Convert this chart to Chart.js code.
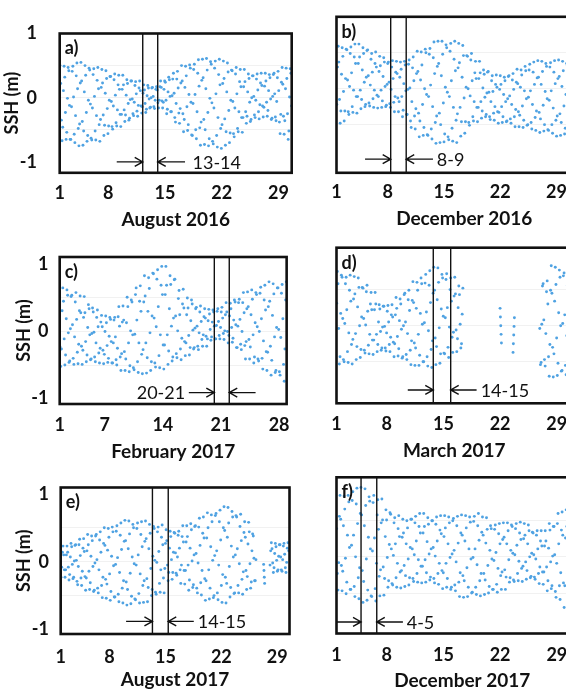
<!DOCTYPE html>
<html>
<head>
<meta charset="utf-8">
<title>SSH panels</title>
<script src="https://cdn.jsdelivr.net/npm/chart.js@4.4.1/dist/chart.umd.min.js"></script>
<style>
  html, body { margin: 0; padding: 0; background: #fff; overflow: hidden; width: 566px; height: 696px; }
  canvas { position: absolute; }
</style>
</head>
<body>
<script>
/* ---------- data (sea surface height, m, 2-hourly) ---------- */
const STEP = 1 / 12;          // 2 h in days
const STEP_1H = 1 / 24;       // 1 h in days

const dayTicks    = [1, 8, 15, 22, 29];
const dayTicksFeb = [1, 7, 14, 21, 28];
const sshTicks    = [-1, -0.5, 0, 0.5, 1];

const t0Aug2016 = 2.04;
const sshAug2016 = [
  0.50,0.22,-0.35,-0.67,-0.46,0.11,0.49,0.32,-0.23,-0.65,-0.54,-0.01,
  0.47,0.42,-0.12,-0.65,-0.65,-0.14,0.41,0.49,0.01,-0.57,-0.70,-0.28,
  0.34,0.54,0.14,-0.48,-0.75,-0.41,0.23,0.55,0.26,-0.37,-0.74,-0.52,
  0.09,0.50,0.35,-0.23,-0.68,-0.59,-0.04,0.46,0.43,-0.10,-0.63,-0.66,
  -0.16,0.36,0.45,0.02,-0.52,-0.66,-0.28,0.27,0.47,0.14,-0.42,-0.68,
  -0.34,0.16,0.44,0.23,-0.27,-0.59,-0.43,0.07,0.42,0.30,-0.17,-0.56,
  -0.44,-0.04,0.33,0.33,-0.06,-0.45,-0.49,-0.13,0.28,0.37,0.04,-0.39,
  -0.44,-0.19,0.20,0.35,0.13,-0.26,-0.45,-0.26,0.13,0.35,0.20,-0.19,
  -0.37,-0.27,0.04,0.28,0.22,-0.09,-0.35,-0.32,-0.03,0.26,0.26,-0.02,
  -0.25,-0.28,-0.07,0.19,0.25,0.06,-0.21,-0.29,-0.12,0.15,0.26,0.11,
  -0.13,-0.24,-0.14,0.07,0.20,0.12,-0.09,-0.23,-0.18,0.03,0.19,0.15,
  -0.02,-0.16,-0.15,0.00,0.15,0.16,0.02,-0.14,-0.17,-0.04,0.13,0.17,
  0.12,-0.08,-0.16,-0.04,0.17,0.26,0.16,-0.05,-0.16,-0.07,0.13,0.26,
  0.24,-0.04,-0.25,-0.18,0.09,0.32,0.28,0.02,-0.22,-0.22,0.03,0.29,
  0.38,0.07,-0.31,-0.38,-0.09,0.29,0.41,0.15,-0.24,-0.40,-0.17,0.23,
  0.50,0.26,-0.25,-0.53,-0.34,0.16,0.49,0.34,-0.14,-0.51,-0.42,0.05,
  0.51,0.46,-0.07,-0.58,-0.59,-0.09,0.44,0.52,0.05,-0.50,-0.64,-0.22,
  0.38,0.59,0.18,-0.47,-0.74,-0.38,0.27,0.60,0.31,-0.34,-0.73,-0.50,
  0.14,0.61,0.43,-0.23,-0.75,-0.64,-0.01,0.56,0.52,-0.08,-0.68,-0.72,
  -0.16,0.46,0.57,0.06,-0.59,-0.77,-0.31,0.36,0.60,0.20,-0.48,-0.79,
  -0.42,0.22,0.57,0.30,-0.33,-0.74,-0.53,0.09,0.54,0.40,-0.20,-0.70,
  -0.55,-0.04,0.43,0.42,-0.06,-0.56,-0.61,-0.16,0.37,0.47,0.06,-0.48,
  -0.53,-0.22,0.25,0.44,0.17,-0.31,-0.54,-0.31,0.17,0.44,0.25,-0.22,
  -0.40,-0.29,0.09,0.37,0.30,-0.07,-0.37,-0.34,0.00,0.34,0.34,0.02,
  -0.27,-0.31,-0.04,0.29,0.37,0.12,-0.22,-0.33,-0.11,0.23,0.38,0.19,
  -0.13,-0.30,-0.15,0.18,0.38,0.26,-0.07,-0.29,-0.20,0.11,0.36,0.31,
  -0.02,-0.34,-0.32,0.02,0.36,0.38,0.06,-0.30,-0.36,-0.06,0.31,0.41,
  0.11,-0.38,-0.56,-0.26,0.24,0.47,0.21,-0.29,-0.57,-0.36,0.14,0.46,
  0.30,-0.25,-0.65,-0.52,0.01,0.45,0.38,-0.13
];

const t0Dec2016 = 1.67;
const sshDec2016 = [
  -0.22,0.30,0.59,0.37,-0.15,-0.48,-0.31,0.20,0.57,0.45,-0.04,-0.45,
  -0.31,0.14,0.55,0.54,0.12,-0.32,-0.36,0.03,0.49,0.58,0.22,-0.25,
  -0.33,-0.02,0.44,0.62,0.35,-0.11,-0.34,-0.11,0.35,0.62,0.44,-0.02,
  -0.28,-0.15,0.26,0.57,0.49,0.09,-0.25,-0.22,0.16,0.53,0.54,0.18,
  -0.20,-0.24,0.05,0.41,0.49,0.23,-0.14,-0.26,-0.02,0.35,0.51,0.30,
  -0.09,-0.27,-0.11,0.24,0.45,0.32,-0.02,-0.26,-0.17,0.17,0.43,0.37,
  0.03,-0.25,-0.23,0.06,0.35,0.37,0.09,-0.21,-0.26,-0.01,0.30,0.39,
  0.14,-0.19,-0.32,-0.11,0.23,0.38,0.21,-0.13,-0.32,-0.18,0.16,0.37,
  0.27,-0.11,-0.39,-0.30,0.07,0.38,0.33,-0.03,-0.36,-0.36,-0.01,0.34,
  0.40,0.01,-0.45,-0.54,-0.18,0.29,0.44,0.11,-0.38,-0.56,-0.28,0.21,
  0.52,0.24,-0.34,-0.67,-0.45,0.12,0.51,0.33,-0.22,-0.65,-0.54,0.00,
  0.55,0.50,-0.08,-0.64,-0.65,-0.11,0.48,0.56,0.05,-0.56,-0.70,-0.25,
  0.43,0.65,0.21,-0.47,-0.76,-0.38,0.31,0.66,0.35,-0.34,-0.75,-0.50,
  0.18,0.66,0.48,-0.20,-0.74,-0.63,0.02,0.61,0.57,-0.05,-0.67,-0.71,
  -0.11,0.52,0.63,0.11,-0.55,-0.73,-0.26,0.41,0.66,0.25,-0.44,-0.75,
  -0.35,0.29,0.63,0.36,-0.26,-0.66,-0.46,0.16,0.60,0.46,-0.13,-0.62,
  -0.46,0.02,0.46,0.45,0.00,-0.47,-0.51,-0.10,0.40,0.49,0.11,-0.39,
  -0.45,-0.18,0.22,0.38,0.14,-0.26,-0.46,-0.26,0.14,0.38,0.22,-0.18,
  -0.41,-0.31,0.01,0.26,0.20,-0.12,-0.39,-0.36,-0.06,0.23,0.24,-0.05,
  -0.39,-0.43,-0.18,0.11,0.18,-0.04,-0.34,-0.44,-0.25,0.06,0.19,0.02,
  -0.32,-0.48,-0.33,-0.01,0.18,0.06,-0.25,-0.47,-0.39,-0.08,0.16,0.11,
  -0.18,-0.46,-0.45,-0.14,0.17,0.18,-0.10,-0.42,-0.48,-0.22,0.12,0.21,
  -0.01,-0.39,-0.53,-0.29,0.09,0.27,0.07,-0.32,-0.53,-0.37,0.02,0.26,
  0.19,-0.24,-0.54,-0.44,-0.03,0.31,0.25,-0.14,-0.51,-0.50,-0.12,0.26,
  0.34,-0.03,-0.47,-0.56,-0.22,0.23,0.37,0.06,-0.40,-0.58,-0.31,0.15,
  0.39,0.16,-0.33,-0.61,-0.42,0.06,0.38,0.24,-0.23,-0.59,-0.50,-0.04,
  0.35,0.31,-0.14,-0.57,-0.58,-0.16,0.30,0.36,-0.03,-0.50,-0.62,-0.27,
  0.23,0.39,0.07,-0.44,-0.66,-0.38,0.14,0.40,0.17,-0.35,-0.65,-0.47,
  0.03,0.38,0.25,-0.24,-0.63,-0.55,-0.08,0.35,0.32,-0.13
];

const t0Feb2017 = 1.62;
const sshFeb2017 = [
  -0.23,-0.52,-0.26,0.31,0.65,0.45,-0.11,-0.50,-0.35,0.19,0.62,0.54,
  -0.02,-0.46,-0.44,0.04,0.52,0.54,0.10,-0.40,-0.49,-0.08,0.44,0.58,
  0.18,-0.31,-0.48,-0.19,0.31,0.53,0.28,-0.22,-0.49,-0.28,0.21,0.52,
  0.28,-0.15,-0.45,-0.35,0.06,0.40,0.34,-0.05,-0.42,-0.41,-0.03,0.35,
  0.29,-0.01,-0.38,-0.45,-0.17,0.21,0.32,0.07,-0.32,-0.47,-0.25,0.14,
  0.24,0.07,-0.28,-0.48,-0.34,0.00,0.23,0.13,-0.21,-0.46,-0.40,-0.07,
  0.21,0.18,-0.15,-0.47,-0.47,-0.17,0.17,0.21,-0.08,-0.42,-0.50,-0.25,
  0.22,0.37,0.08,-0.38,-0.58,-0.33,0.14,0.38,0.17,-0.30,-0.58,-0.41,
  0.13,0.51,0.37,-0.17,-0.60,-0.51,0.01,0.47,0.44,-0.05,-0.54,-0.57,
  -0.04,0.55,0.65,0.17,-0.45,-0.61,-0.17,0.45,0.68,0.30,-0.34,-0.63,
  -0.27,0.44,0.83,0.53,-0.17,-0.62,-0.39,0.30,0.80,0.64,-0.02,-0.58,
  -0.45,0.23,0.87,0.86,0.20,-0.47,-0.53,0.07,0.78,0.92,0.37,-0.36,
  -0.54,-0.05,0.69,0.97,0.55,-0.20,-0.56,-0.20,0.55,0.97,0.69,-0.05,
  -0.49,-0.29,0.34,0.83,0.70,0.08,-0.44,-0.38,0.20,0.77,0.78,0.23,
  -0.33,-0.39,0.01,0.49,0.61,0.25,-0.26,-0.42,-0.10,0.41,0.63,0.35,
  -0.15,-0.36,-0.17,0.25,0.50,0.35,-0.06,-0.35,-0.24,0.16,0.47,0.41,
  0.02,-0.26,-0.24,0.05,0.34,0.36,0.08,-0.22,-0.27,-0.02,0.29,0.38,
  0.15,-0.12,-0.22,-0.05,0.22,0.34,0.20,-0.07,-0.22,-0.11,0.16,0.33,
  0.26,0.03,-0.13,-0.08,0.14,0.32,0.29,0.08,-0.11,-0.11,0.09,0.30,
  0.34,0.15,-0.06,-0.11,0.06,0.29,0.36,0.20,-0.03,-0.12,0.01,0.25,
  0.43,0.29,0.00,-0.17,-0.06,0.23,0.42,0.34,0.06,-0.16,-0.10,0.17,
  0.47,0.44,0.10,-0.24,-0.24,0.08,0.43,0.48,0.18,-0.19,-0.27,0.00,
  0.43,0.58,0.28,-0.21,-0.41,-0.15,0.34,0.59,0.37,-0.12,-0.41,-0.23,
  0.25,0.62,0.48,-0.05,-0.47,-0.38,0.13,0.58,0.55,0.07,-0.41,-0.44,
  0.00,0.57,0.66,0.19,-0.40,-0.56,-0.14,0.47,0.69,0.32,-0.30,-0.58,
  -0.31,0.37,0.74,0.45,-0.22,-0.65,-0.43,0.24,0.71,0.56,-0.08,-0.61,
  -0.58,0.06,0.65,0.65,0.03,-0.60,-0.65,-0.09,0.57,0.70,0.19,-0.49,
  -0.74,-0.26,0.47,0.74
];

const t0Mar2017 = 1.82;
const sshMar2017 = [
  0.31,0.75,0.58,-0.04,-0.53,-0.43,0.17,0.70,0.67,0.10,-0.47,-0.50,
  0.03,0.58,0.67,0.22,-0.36,-0.51,-0.10,0.49,0.70,0.34,-0.26,-0.53,
  -0.19,0.37,0.68,0.44,-0.11,-0.47,-0.29,0.26,0.66,0.53,0.00,-0.44,
  -0.33,0.12,0.53,0.52,0.10,-0.34,-0.38,0.01,0.47,0.56,0.20,-0.27,
  -0.39,-0.12,0.30,0.46,0.22,-0.20,-0.40,-0.20,0.22,0.46,0.30,-0.12,
  -0.36,-0.26,0.05,0.29,0.23,-0.08,-0.34,-0.31,-0.02,0.27,0.27,-0.01,
  -0.31,-0.35,-0.10,0.20,0.28,0.05,-0.26,-0.36,-0.16,0.15,0.29,0.12,
  -0.23,-0.43,-0.25,0.15,0.39,0.24,-0.15,-0.42,-0.32,0.07,0.37,0.30,
  -0.05,-0.45,-0.43,0.00,0.43,0.45,0.05,-0.40,-0.47,-0.11,0.36,0.49,
  0.21,-0.34,-0.54,-0.21,0.35,0.61,0.32,-0.24,-0.55,-0.31,0.24,0.60,
  0.49,-0.12,-0.55,-0.41,0.17,0.66,0.58,0.02,-0.50,-0.50,0.04,0.59,
  0.71,0.19,-0.43,-0.56,-0.07,0.56,0.76,0.32,-0.33,-0.58,-0.21,0.45,
  0.81,0.49,-0.17,-0.54,-0.29,0.36,0.80,0.60,-0.03,-0.52,-0.39,0.23,
  0.71,0.66,0.13,-0.38,-0.39,0.11,0.64,0.72,0.25,-0.30,-0.44,-0.02,
  0.50,0.66,0.34,-0.16,-0.37,-0.09,0.41,0.67,0.44,-0.06,-0.36,-0.18,
  0.25,0.55,0.43,0.02,-0.31,-0.25,0.16,0.52
];
const t0Mar2017b = 22.0;
const sshMar2017b = [0.24, 0.12, 0.00, -0.12, -0.24];
const t0Mar2017c = 23.6;
const sshMar2017c = [-0.37, -0.25, -0.13, -0.01, 0.11];
const t0Mar2017d = 26.9;
const sshMar2017d = [
  -0.04,-0.54,-0.51,0.02,0.55,0.58,0.08,-0.47,-0.56,-0.11,0.47,0.62,
  0.30,-0.43,-0.70,-0.26,0.49,0.83,0.45,-0.30,-0.71,-0.39,0.34,0.81,
  0.57,-0.17,-0.69,-0.52,0.18,0.77,0.67,0.00,-0.63,-0.62,0.03,0.69,
  0.73,0.15,-0.55,-0.68,-0.14,0.56,0.78,0.30,-0.43,-0.71,-0.29,0.44
];

const t0Aug2017 = 1.92;
const sshAug2017 = [
  -0.23,-0.08,0.14,0.23,0.10,-0.12,-0.23,-0.12,0.10,0.23,0.14,-0.08,
  -0.27,-0.19,0.07,0.27,0.22,-0.04,-0.25,-0.23,0.01,0.24,0.25,0.02,
  -0.29,-0.34,-0.07,0.25,0.33,0.09,-0.24,-0.35,-0.14,0.20,0.34,0.15,
  -0.22,-0.42,-0.24,0.16,0.40,0.25,-0.14,-0.41,-0.31,0.08,0.38,0.31,
  -0.07,-0.44,-0.42,-0.02,0.38,0.40,0.03,-0.39,-0.46,-0.12,0.32,0.44,
  0.14,-0.35,-0.53,-0.23,0.27,0.50,0.24,-0.26,-0.54,-0.33,0.17,0.49,
  0.36,-0.18,-0.57,-0.44,0.08,0.51,0.44,-0.06,-0.52,-0.52,-0.04,0.45,
  0.53,0.06,-0.48,-0.59,-0.16,0.39,0.57,0.18,-0.39,-0.61,-0.28,0.30,
  0.61,0.31,-0.30,-0.64,-0.41,0.19,0.60,0.41,-0.17,-0.62,-0.51,0.07,
  0.55,0.50,-0.03,-0.55,-0.56,-0.05,0.49,0.57,0.10,-0.47,-0.61,-0.18,
  0.40,0.59,0.22,-0.35,-0.60,-0.28,0.30,0.60,0.34,-0.25,-0.59,-0.38,
  0.19,0.55,0.42,-0.10,-0.50,-0.41,0.08,0.52,0.49,0.02,-0.45,-0.48,
  -0.01,0.44,0.51,0.15,-0.32,-0.45,-0.12,0.36,0.54,0.25,-0.24,-0.46,
  -0.10,0.27,0.47,0.31,-0.05,-0.28,-0.16,0.20,0.45,0.37,0.03,-0.26,
  -0.16,0.14,0.43,0.42,0.13,-0.17,-0.20,0.07,0.39,0.45,0.20,-0.12,
  -0.32,-0.05,0.37,0.53,0.29,-0.13,-0.33,-0.13,0.29,0.53,0.37,-0.05,
  -0.42,-0.27,0.20,0.56,0.47,0.01,-0.38,-0.34,0.10,0.52,0.53,0.12,
  -0.39,-0.46,-0.02,0.51,0.64,0.24,-0.31,-0.49,-0.13,0.42,0.66,0.35,
  -0.25,-0.57,-0.28,0.35,0.72,0.50,-0.12,-0.55,-0.39,0.22,0.69,0.59,
  0.02,-0.53,-0.50,0.09,0.68,0.71,0.16,-0.46,-0.56,-0.05,0.59,0.76,
  0.32,-0.35,-0.60,-0.19,0.50,0.81,0.46,-0.23,-0.61,-0.32,0.36,0.80,
  0.57,-0.07,-0.52,-0.38,0.23,0.74,0.66,0.07,-0.47,-0.46,0.10,0.68,
  0.66,0.19,-0.35,-0.46,-0.03,0.52,0.70,0.31,-0.26,-0.48,-0.15,0.43,
  0.59,0.36,-0.13,-0.41,-0.22,0.26,0.58,0.44,-0.03,-0.39,-0.30,0.16,
  0.41,0.38,0.05,-0.28,-0.28,0.03
];
const t0Aug2017b = 27.3;
const sshAug2017b = [-0.04, -0.13, -0.23, -0.32];
const t0Aug2017c = 28.1;
const sshAug2017c = [
  -0.05,0.16,0.28,0.19,-0.02,-0.16,-0.09,0.12,0.27,0.22,0.02,-0.14,
  -0.12,0.08,0.25,0.25,0.07,-0.12,-0.14,0.03,0.23,0.27,0.11,-0.09,
  -0.16,-0.01,0.20,0.28,0.16
];

const t0Dec2017 = 1.82;
const sshDec2017 = [
  0.39,-0.23,-0.46,-0.08,0.56,0.85,0.52,-0.12,-0.47,-0.20,0.43,0.84,
  0.66,-0.02,-0.51,-0.35,0.30,0.85,0.76,0.13,-0.45,-0.45,0.16,0.78,
  0.90,0.30,-0.41,-0.55,0.00,0.73,0.95,0.46,-0.29,-0.58,-0.15,0.60,
  0.96,0.58,-0.19,-0.63,-0.34,0.43,0.94,0.71,-0.03,-0.60,-0.46,0.27,
  0.83,0.77,0.11,-0.54,-0.55,0.08,0.75,0.85,0.26,-0.44,-0.61,-0.09,
  0.58,0.79,0.38,-0.27,-0.54,-0.18,0.47,0.80,0.51,-0.14,-0.53,-0.30,
  0.28,0.65,0.51,-0.01,-0.42,-0.33,0.17,0.61,0.59,0.11,-0.37,-0.39,
  0.02,0.47,0.54,0.18,-0.29,-0.42,-0.09,0.39,0.57,0.28,-0.21,-0.43,
  -0.19,0.27,0.52,0.33,-0.12,-0.41,-0.26,0.18,0.50,0.40,-0.03,-0.39,
  -0.29,0.13,0.52,0.52,0.11,-0.30,-0.34,0.03,0.47,0.56,0.22,-0.23,
  -0.35,-0.04,0.42,0.60,0.33,-0.13,-0.36,-0.13,0.33,0.60,0.42,-0.04,
  -0.35,-0.22,0.21,0.54,0.45,0.04,-0.32,-0.28,0.11,0.50,0.50,0.13,
  -0.30,-0.36,0.01,0.45,0.55,0.22,-0.23,-0.38,-0.09,0.37,0.57,0.32,
  -0.19,-0.44,-0.22,0.28,0.57,0.40,-0.09,-0.42,-0.30,0.18,0.55,0.47,
  -0.01,-0.45,-0.42,0.04,0.50,0.53,0.09,-0.39,-0.47,-0.07,0.43,0.56,
  0.19,-0.35,-0.55,-0.22,0.33,0.58,0.30,-0.26,-0.56,-0.33,0.22,0.57,
  0.40,-0.15,-0.55,-0.42,0.11,0.55,0.48,-0.03,-0.50,-0.49,-0.01,0.49,
  0.56,0.11,-0.42,-0.52,-0.11,0.43,0.60,0.23,-0.33,-0.54,-0.23,0.34,
  0.55,0.30,-0.23,-0.52,-0.32,0.19,0.54,0.38,-0.12,-0.50,-0.41,0.09,
  0.43,0.39,-0.03,-0.45,-0.45,-0.05,0.38,0.44,0.06,-0.38,-0.49,-0.16,
  0.32,0.46,0.18,-0.26,-0.45,-0.21,0.24,0.47,0.27,-0.18,-0.45,-0.28,
  0.18,0.47,0.36,-0.04,-0.35,-0.29,0.09,0.44,0.42,0.05,-0.32,-0.34,
  0.03,0.39,0.46,0.16,-0.23,-0.33,-0.06,0.33,0.48,0.24,-0.16,-0.34,
  -0.13,0.25,0.46,0.30,-0.07,-0.31,-0.19,0.18,0.44,0.36,0.00,-0.29,
  -0.27,0.05,0.34,0.33,0.03,-0.28,-0.31,-0.03,0.30,0.36,0.11,-0.23,
  -0.37,-0.14,0.22,0.36,0.15,-0.21,-0.38,-0.21,0.15,0.36,0.22,-0.14,
  -0.47,-0.33,0.12,0.46,0.37,-0.07,-0.44,-0.40,0.01,0.42,0.42,0.03,
  -0.48,-0.56,-0.09,0.46,0.60,0.18,-0.40,-0.59,-0.22,0.37,0.62,0.30,
  -0.36,-0.70,-0.40,0.26,0.65,0.42,-0.23,-0.68,-0.51,0.12
];

// sampling windows (day of month) marked by the two vertical lines
const eventsAug2016 = [12.25, 14.1];
const eventsDec2016 = [8.37, 10.3];
const eventsFeb2017 = [20.2, 22.0];
const eventsMar2017 = [13.75, 15.9];
const eventsAug2017 = [13.37, 15.35];
const eventsDec2017 = [4.83, 6.77];

/* ---------- layout ---------- */
const DOT  = '#4fa2e2';
const INK  = '#111';
const FONT = 'Lato, "Open Sans", sans-serif';

Chart.defaults.font.family = FONT;
Chart.defaults.color = INK;

const pts = (t0, step, vals) => vals.map((v, i) => ({ x: t0 + i * step, y: v }));

const panels = [
  { tag: 'a)', month: 'August 2016', showY: true,
    series: [pts(t0Aug2016, STEP, sshAug2016)], xr: [2.0, 30.64], yr: [-1.17, 1.0], days: dayTicks, events: eventsAug2016,
    note: { text: '13-14', y: -1.0, fromL: 9.04, fromR: 17.47, textX: 18.4, align: 'left' },
    box: { left: 0, top: 0, w: 300, h: 235, padTop: 16.8, padRight: 8.3, yW: 59.7, xH: 62.2, tickPad: 9.4, titlePad: 3.6, yTickPad: 22.7, yTitlePad: 1.7 } },
  { tag: 'b)', month: 'December 2016', showY: false,
    series: [pts(t0Dec2016, STEP, sshDec2016)], xr: [1.63, 33.41], yr: [-1.17, 1.0], days: dayTicks, events: eventsDec2016,
    note: { text: '8-9', y: -0.98, fromL: 5.18, fromR: 13.63, textX: 14.1, align: 'left' },
    box: { left: 300, top: 0, w: 300, h: 235, padTop: 16.8, padRight: 8, yW: 36.5, xH: 62.2, tickPad: 8.1, titlePad: 4.6 } },
  { tag: 'c)', month: 'February 2017', showY: true,
    series: [pts(t0Feb2017, STEP, sshFeb2017)], xr: [1.58, 28.91], yr: [-1.08, 1.11], days: dayTicksFeb, events: eventsFeb2017,
    note: { text: '20-21', y: -0.91, fromL: 17.13, fromR: 25.17, textX: 16.69, align: 'right' },
    box: { left: 0, top: 235, w: 300, h: 230, padTop: 11.3, padRight: 8.3, yW: 59.7, xH: 61, tickPad: 10.2, titlePad: 1.9, yTickPad: 11.2, yTitlePad: 13.4 } },
  { tag: 'd)', month: 'March 2017', showY: false,
    series: [pts(t0Mar2017, STEP, sshMar2017), pts(t0Mar2017b, STEP_1H, sshMar2017b),
             pts(t0Mar2017c, STEP_1H, sshMar2017c), pts(t0Mar2017d, STEP, sshMar2017d)],
    xr: [1.80, 30.88], yr: [-1.075, 1.08], days: dayTicks, events: eventsMar2017,
    note: { text: '14-15', y: -0.89, fromL: 10.6, fromR: 19.1, textX: 19.6, align: 'left' },
    box: { left: 300, top: 235, w: 300, h: 230, padTop: 12.7, padRight: 28, yW: 36.5, xH: 61.7, tickPad: 9.9, titlePad: 2.8 } },
  { tag: 'e)', month: 'August 2017', showY: true,
    series: [pts(t0Aug2017, STEP, sshAug2017), pts(t0Aug2017b, STEP_1H, sshAug2017b), pts(t0Aug2017c, STEP, sshAug2017c)],
    xr: [1.88, 30.54], yr: [-1.066, 1.094], days: dayTicks, events: eventsAug2017,
    note: { text: '14-15', y: -0.88, fromL: 10.07, fromR: 18.55, textX: 19.05, align: 'left' },
    box: { left: 0, top: 465, w: 300, h: 231, padTop: 12.7, padRight: 8.3, yW: 60.7, xH: 62, tickPad: 11.9, titlePad: 4.6, yTickPad: 11.7, yTitlePad: 13.4 } },
  { tag: 'f)', month: 'December 2017', showY: false,
    series: [pts(t0Dec2017, STEP, sshDec2017)], xr: [1.80, 32.85], yr: [-1.06, 1.10], days: dayTicks, events: eventsDec2017,
    note: { text: '4-5', y: -0.90, fromL: 1.80, fromR: 10.0, textX: 10.47, align: 'left' },
    box: { left: 300, top: 465, w: 300, h: 231, padTop: 12.3, padRight: 12, yW: 36.5, xH: 62.5, tickPad: 10.7, titlePad: 3.8 } }
];

/* ---------- frame, window lines, arrows, panel letter ---------- */
function arrow(ctx, x0, x1, y) {
  const s = Math.sign(x1 - x0);
  ctx.beginPath();
  ctx.moveTo(x0, y); ctx.lineTo(x1, y);
  ctx.moveTo(x1 - s * 8, y - 4.5); ctx.lineTo(x1, y); ctx.lineTo(x1 - s * 8, y + 4.5);
  ctx.stroke();
}

const panelDecor = {
  id: 'panelDecor',
  afterDatasetsDraw(chart, args, o) {
    const { ctx, chartArea: a, scales: { x, y } } = chart;
    ctx.save();
    ctx.strokeStyle = INK;
    ctx.fillStyle = INK;

    ctx.lineWidth = 1.4;
    o.events.forEach(d => {
      const px = x.getPixelForValue(d);
      ctx.beginPath(); ctx.moveTo(px, a.top); ctx.lineTo(px, a.bottom); ctx.stroke();
    });

    const n = o.note, ay = y.getPixelForValue(n.y);
    arrow(ctx, x.getPixelForValue(n.fromL), x.getPixelForValue(o.events[0]), ay);
    arrow(ctx, x.getPixelForValue(n.fromR), x.getPixelForValue(o.events[1]), ay);
    ctx.font = '18px ' + FONT;
    ctx.textAlign = n.align;
    ctx.textBaseline = 'middle';
    ctx.fillText(n.text, x.getPixelForValue(n.textX), ay + 1);

    ctx.lineWidth = 2.6;
    ctx.strokeRect(a.left, a.top, a.right - a.left, a.bottom - a.top);

    ctx.font = 'bold 18px ' + FONT;
    ctx.textAlign = 'left';
    ctx.fillText(o.tag, a.left + 5, a.top + 15);
    ctx.restore();
  }
};

/* ---------- build the six charts ---------- */
panels.forEach(p => {
  const b = p.box;
  const cv = document.createElement('canvas');
  cv.width = b.w; cv.height = b.h;
  cv.style.left = b.left + 'px';
  cv.style.top = b.top + 'px';
  document.body.appendChild(cv);

  new Chart(cv, {
    type: 'scatter',
    data: {
      datasets: p.series.map(s => ({
        data: s,
        pointRadius: 1.45,
        pointBorderWidth: 0,
        pointBackgroundColor: DOT
      }))
    },
    options: {
      animation: false,
      responsive: false,
      devicePixelRatio: 1,
      events: [],
      layout: { padding: { top: b.padTop, right: b.padRight, left: 0, bottom: 0 } },
      plugins: {
        legend: { display: false },
        tooltip: { enabled: false },
        panelDecor: { tag: p.tag, events: p.events, note: p.note }
      },
      scales: {
        x: {
          type: 'linear', min: p.xr[0], max: p.xr[1],
          grid: { display: false, drawTicks: false },
          border: { display: false },
          afterBuildTicks: ax => { ax.ticks = p.days.map(v => ({ value: Math.max(v, ax.min) })); },
          afterFit: ax => { ax.height = b.xH; },
          ticks: {
            autoSkip: false, maxRotation: 0, padding: b.tickPad,
            font: { size: 18, weight: 'bold' },
            callback: (v, i) => String(p.days[i])
          },
          title: {
            display: true, text: p.month,
            font: { size: 19, weight: 'bold' },
            padding: { top: 0, bottom: b.titlePad }
          }
        },
        y: {
          type: 'linear', min: p.yr[0], max: p.yr[1],
          grid: {
            drawTicks: false,
            lineWidth: 1,
            color: c => (c.tick && Math.abs(c.tick.value) === 1) ? 'rgba(0,0,0,0)' : '#f1f1f1'
          },
          border: { display: false },
          afterBuildTicks: ax => { ax.ticks = sshTicks.map(v => ({ value: v })); },
          afterFit: ax => { ax.width = b.yW; },
          ticks: {
            display: p.showY, padding: b.yTickPad || 0,
            font: { size: 18, weight: 'bold' },
            callback: v => Number.isInteger(v) ? String(v) : ''
          },
          title: {
            display: p.showY, text: 'SSH (m)',
            font: { size: 18, weight: 'bold' },
            padding: { top: b.yTitlePad || 0, bottom: 0 }
          }
        }
      }
    },
    plugins: [panelDecor]
  });
});
</script>
</body>
</html>
